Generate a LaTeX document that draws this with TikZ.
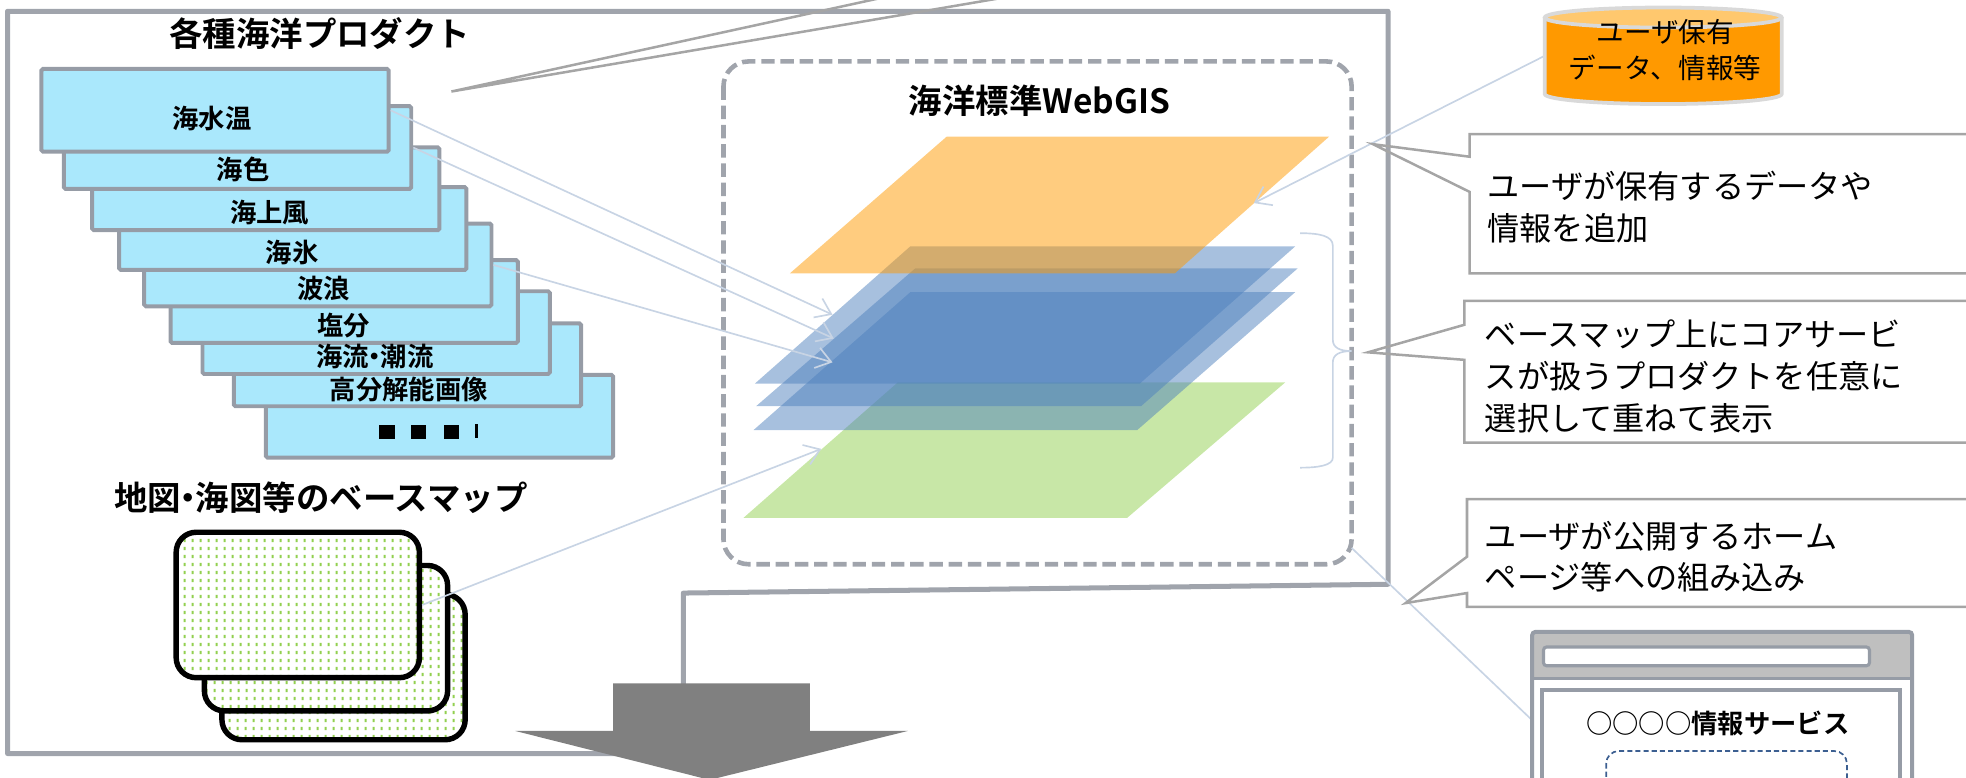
\documentclass[tikz,border=0pt]{standalone}
\usepackage{fontspec}
\setmainfont{Noto Sans CJK JP}[BoldFont={Noto Sans CJK JP Bold}]
\usetikzlibrary{arrows.meta,patterns.meta}

\definecolor{framegray}{RGB}{160,164,172}
\definecolor{boxedge}{RGB}{150,156,166}
\definecolor{boxblue}{RGB}{170,232,252}
\definecolor{linkblue}{RGB}{200,212,228}
\definecolor{callgray}{RGB}{165,165,165}
\definecolor{layerblue}{RGB}{79,129,189}
\definecolor{layerorange}{RGB}{255,153,0}
\definecolor{layergreen}{RGB}{146,208,80}
\definecolor{arrowgray}{RGB}{128,128,128}
\definecolor{cyltop}{RGB}{255,200,110}
\definecolor{cyledge}{RGB}{217,217,217}
\definecolor{barfill}{RGB}{191,191,191}
\definecolor{webblue}{RGB}{60,95,145}

% fine dot screen for the base-map cards
\tikzdeclarepattern{
  name=mapdots,
  type=uncolored,
  bottom left={(0pt,0pt)},
  top right={(3.6pt,3.6pt)},
  tile size={(3.6pt,3.6pt)},
  code={\pgfpathrectangle{\pgfqpoint{1.3pt}{1.0pt}}{\pgfqpoint{1.0pt}{1.6pt}}\pgfusepath{fill}}
}

% tight middle dot for compound labels
\newcommand{\tightdot}{\kern-0.28em・\kern-0.28em}

\begin{document}
\begin{tikzpicture}[x=0.6pt,y=-0.6pt,
  prodbox/.style={draw=boxedge, line width=1.9pt, fill=boxblue, rectangle,
    rounded corners=0.8pt, inner sep=0pt, minimum width=166.2pt, minimum height=39.6pt},
  prodlabel/.style={font=\bfseries\fontsize{12.6pt}{14pt}\selectfont, inner sep=0pt},
  headline/.style={font=\bfseries\fontsize{16pt}{18pt}\selectfont, inner sep=0pt},
  mapcard/.style={draw=black, line width=2.6pt, rounded corners=9.6pt, rectangle,
    minimum width=116.4pt, minimum height=69.6pt, inner sep=0pt,
    preaction={fill=white}, pattern=mapdots, pattern color=layergreen},
  link/.style={draw=linkblue, line width=0.8pt},
  linkarrow/.style={link, -{Straight Barb[length=7pt,width=10pt]}},
  callout/.style={draw=callgray, line width=1.2pt, line join=miter},
  callouttext/.style={font=\fontsize{15.4pt}{20.1pt}\selectfont, align=left,
    inner sep=0pt, anchor=west},
  layerfill/.style={fill opacity=0.5}
]
\useasboundingbox (0,0) rectangle (1568,620);
\clip (0,0) rectangle (1568,620);

% outer panel (L-shaped outline)
\draw[framegray, line width=2.4pt, line join=round]
  (6,9) -- (1107,9) -- (1107,466) -- (545,473) -- (545,601) -- (6,601) -- cycle;

% pointer from a balloon above the page
\coordinate (topTip) at (360,73);
\coordinate (topBaseA) at (741,-10);
\coordinate (topBaseB) at (848,-10);
\draw[callgray, line width=1.2pt] (topBaseA) -- (topTip) -- (topBaseB);

% WebGIS frame
\draw[framegray, line width=2.2pt, dash pattern=on 6.4pt off 2.8pt, rounded corners=12pt]
  (577,49) rectangle (1078,450);
\node[headline] (gistitle) at (829,80) {海洋標準WebGIS};

% stacked map layers
\fill[layergreen, layerfill] (593,413) -- (899,413) -- (1025,305) -- (716,305) -- cycle;
\fill[layerblue, layerfill] (601,343) -- (907,343) -- (1033,233) -- (726,233) -- cycle;
\fill[layerblue, layerfill] (603,324) -- (910,324) -- (1035,214) -- (730,214) -- cycle;
\fill[layerblue, layerfill] (602,306) -- (909,306) -- (1033,196.5) -- (726,196.5) -- cycle;
\fill[layerorange, layerfill] (630,218) -- (937,218) -- (1060,109) -- (755,109) -- cycle;

% product sheets, back to front
\node[headline] (prodtitle) at (255,27) {各種海洋プロダクト};
\node[prodbox] (b9) at (350.5,332) {};
\node[prodbox] (b8) at (325,291) {};
\node[prodbox] (b7) at (300,265.3) {};
\node[prodbox] (b6) at (274.5,240.5) {};
\node[prodbox] (b5) at (253.5,211.3) {};
\node[prodbox] (b4) at (233.5,182.3) {};
\node[prodbox] (b3) at (212,150.6) {};
\node[prodbox] (b2) at (189.5,117.7) {};
\node[prodbox] (b1) at (171.5,88) {};

\node[prodlabel] (l1) at (169,94.6) {海水温};
\node[prodlabel] (l2) at (194,135.5) {海色};
\node[prodlabel] (l3) at (215,169.8) {海上風};
\node[prodlabel] (l4) at (233,201.4) {海氷};
\node[prodlabel] (l5) at (258,230.4) {波浪};
\node[prodlabel] (l6) at (274,259.5) {塩分};
\node[prodlabel] (l7) at (299,284.5) {海流\tightdot 潮流};
\node[prodlabel] (l8) at (326,310.9) {高分解能画像};
\fill[black] (302,339) rectangle (315,350);
\fill[black] (328,339) rectangle (339.5,350);
\fill[black] (354,339) rectangle (366,350);
\fill[black] (378.5,338) rectangle (381.5,349);

% base-map cards
\node[headline] (maptitle) at (256,397) {地図\tightdot 海図等のベースマップ};
\node[mapcard] (card3) at (274,532) {};
\node[mapcard] (card2) at (260,509) {};
\node[mapcard] (card1) at (237.5,482.5) {};

% connectors into the layer stack
\coordinate (tBlueA) at (664,251);
\coordinate (tBlueB) at (665,270);
\coordinate (tBlueC) at (664,289);
\coordinate (tGreen) at (655,358);
\coordinate (tOrange) at (1000,162);
\coordinate (cylW) at (1231,45);
\coordinate (gisCorner) at (1078,437);
\coordinate (webIn) at (1276,626);
\draw[linkarrow] (b1.east) -- (tBlueA);
\draw[linkarrow] (b2.east) -- (tBlueB);
\draw[linkarrow] (b5.east) -- (tBlueC);
\draw[linkarrow] (card1.east) -- (tGreen);
\draw[linkarrow] (cylW) -- (tOrange);
\draw[linkarrow] (gisCorner) -- (webIn);

% brace beside the product layers
\draw[link] (1037,186) .. controls (1052,186) and (1063,188) .. (1063,196)
  -- (1063,271) .. controls (1063,277) and (1068,280) .. (1078,280)
  .. controls (1068,280) and (1063,283) .. (1063,289)
  -- (1063,365) .. controls (1063,371) and (1052,373) .. (1037,373);

% balloons on the right
\draw[callout] (1172,107) -- (1600,107) -- (1600,218) -- (1172,218)
  -- (1172,153) -- (1095,115) -- (1172,125) -- cycle;
\node[callouttext] (c1text) at (1186,165) {ユーザが保有するデータや\\情報を追加};

\draw[callout] (1168,240) -- (1600,240) -- (1600,353) -- (1168,353)
  -- (1168,287) -- (1091,281) -- (1168,259) -- cycle;
\node[callouttext] (c2text) at (1184,300) {ベースマップ上にコアサービ\\スが扱うプロダクトを任意に\\選択して重ねて表示};

\draw[callout] (1170,398) -- (1600,398) -- (1600,484) -- (1170,484)
  -- (1170,473) -- (1121,481) -- (1170,444) -- cycle;
\node[callouttext, font=\fontsize{15.4pt}{19.5pt}\selectfont] (c3text) at (1184,444) {ユーザが公開するホーム\\ページ等への組み込み};

% user data cylinder
\fill[layerorange] (1326.5,75) ellipse[x radius=94.5, y radius=8];
\fill[layerorange] (1232,14) rectangle (1421,75);
\fill[cyltop] (1326.5,14) ellipse[x radius=94.5, y radius=8];
\draw[cyledge, line width=1.8pt]
  (1232,14) -- (1232,75)
  .. controls (1232,79.4) and (1274.3,83) .. (1326.5,83)
  .. controls (1378.7,83) and (1421,79.4) .. (1421,75) -- (1421,14);
\draw[cyledge, line width=1.8pt] (1326.5,14) ellipse[x radius=94.5, y radius=8];
\node[font=\fontsize{13.2pt}{17pt}\selectfont, align=center, inner sep=0pt]
  (cyltext) at (1328,40) {ユーザ保有\\データ、情報等};

% browser window
\fill[white] (1222,504) rectangle (1525,650);
\fill[barfill] (1222,504) rectangle (1525,541);
\draw[boxedge, line width=1.6pt] (1222,541) -- (1525,541);
\draw[boxedge, line width=1.9pt, rounded corners=1.5pt] (1222,504) rectangle (1525,650);
\draw[boxedge, line width=1.5pt, fill=white, rounded corners=1.5pt] (1231,516) rectangle (1491,531);
\draw[boxedge, line width=1.9pt, fill=white] (1230,550) rectangle (1515,650);
\node[font=\bfseries\fontsize{12.6pt}{14pt}\selectfont, inner sep=0pt] (svcname) at (1370,577) {○○○○情報サービス};
\draw[webblue, line width=0.8pt, dash pattern=on 2.4pt off 1.5pt, rounded corners=6pt]
  (1281,599) rectangle (1473,650);

% big downward arrow
\fill[arrowgray] (489,545) -- (646,545) -- (646,583) -- (724,583) -- (566,622)
  -- (411,583) -- (489,583) -- cycle;
\end{tikzpicture}
\end{document}
